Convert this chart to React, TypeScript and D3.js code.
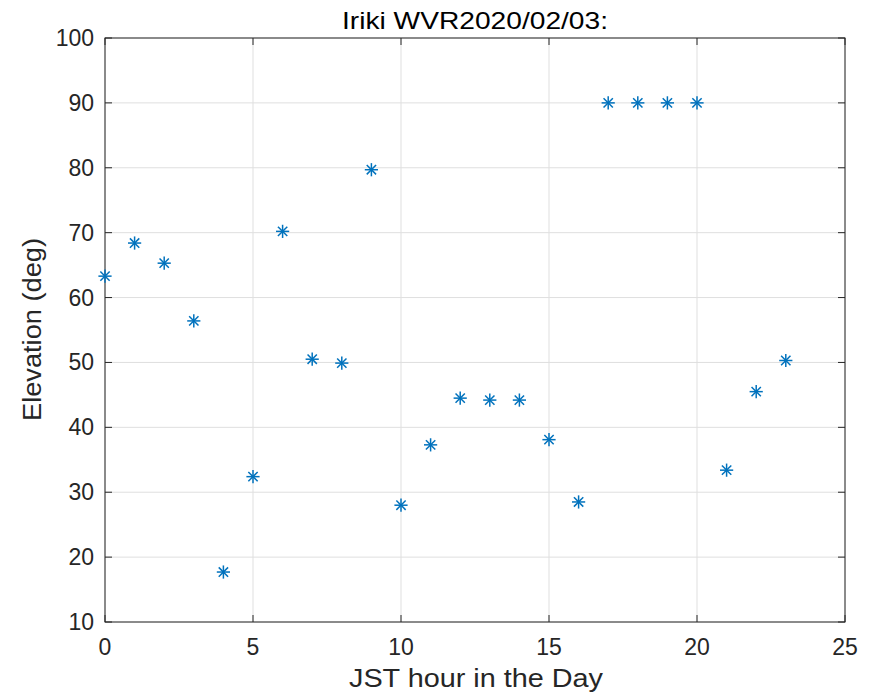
import React from "react";
import * as d3 from "d3";

const hours = [0, 1, 2, 3, 4, 5, 6, 7, 8, 9, 10, 11, 12, 13, 14, 15, 16, 17, 18, 19, 20, 21, 22, 23];
const elevation = [63.3, 68.4, 65.3, 56.4, 17.7, 32.4, 70.2, 50.5, 49.9, 79.7, 28.0, 37.3, 44.5, 44.2, 44.2, 38.1, 28.5, 90, 90, 90, 90, 33.4, 45.5, 50.3];
const xTicks = [0, 5, 10, 15, 20, 25];
const yTicks = [10, 20, 30, 40, 50, 60, 70, 80, 90, 100];

const W = 874, H = 697;
const M = { left: 105, right: 845, top: 38, bottom: 622 };
const FONT = "'Liberation Sans', Arial, sans-serif";
const AX = "#262626";

export default function App() {
  const x = d3.scaleLinear().domain([0, 25]).range([M.left, M.right]);
  const y = d3.scaleLinear().domain([10, 100]).range([M.bottom, M.top]);
  const tl = 7;
  const r = 6.6;
  const star = (cx: number, cy: number, i: number) => {
    const segs = [];
    for (let k = 0; k < 4; k++) {
      const a = (k * Math.PI) / 4;
      const dx = r * Math.sin(a), dy = r * Math.cos(a);
      segs.push(<line key={k} x1={cx - dx} y1={cy - dy} x2={cx + dx} y2={cy + dy} />);
    }
    return <g key={i}>{segs}</g>;
  };
  return (
    <svg width={W} height={H} style={{ position: "absolute", left: 0, top: 0, background: "#fff" }}>
      <rect x={0} y={0} width={W} height={H} fill="#fff" />
      <g stroke="#dfdfdf" strokeWidth={1}>
        {xTicks.map((t) => (
          <line key={"gx" + t} x1={x(t)} x2={x(t)} y1={M.top} y2={M.bottom} />
        ))}
        {yTicks.map((t) => (
          <line key={"gy" + t} x1={M.left} x2={M.right} y1={y(t)} y2={y(t)} />
        ))}
      </g>
      <g stroke={AX} strokeWidth={1}>
        {xTicks.map((t) => (
          <g key={"tx" + t}>
            <line x1={x(t)} x2={x(t)} y1={M.bottom} y2={M.bottom - tl} />
            <line x1={x(t)} x2={x(t)} y1={M.top} y2={M.top + tl} />
          </g>
        ))}
        {yTicks.map((t) => (
          <g key={"ty" + t}>
            <line x1={M.left} x2={M.left + tl} y1={y(t)} y2={y(t)} />
            <line x1={M.right} x2={M.right - tl} y1={y(t)} y2={y(t)} />
          </g>
        ))}
        <rect x={M.left} y={M.top} width={M.right - M.left} height={M.bottom - M.top} fill="none" />
      </g>
      <g stroke="#0072BD" strokeWidth={1.5}>
        {hours.map((h, i) => star(x(h), y(elevation[i]), i))}
      </g>
      <g fill={AX} fontFamily={FONT} fontSize={23}>
        {xTicks.map((t) => (
          <text key={"lx" + t} x={x(t)} y={M.bottom + 33} textAnchor="middle">{t}</text>
        ))}
        {yTicks.map((t) => (
          <text key={"ly" + t} x={M.left - 11} y={y(t) + 8} textAnchor="end">{t}</text>
        ))}
      </g>
      <text x={342} y={29} textLength={266} lengthAdjust="spacingAndGlyphs" fontFamily={FONT} fontSize={24} fill="#000">Iriki WVR2020/02/03:</text>
      <text x={349} y={687} textLength={254} lengthAdjust="spacingAndGlyphs" fontFamily={FONT} fontSize={25} fill={AX}>JST hour in the Day</text>
      <text transform={`translate(41, 421) rotate(-90)`} textLength={183} lengthAdjust="spacingAndGlyphs" fontFamily={FONT} fontSize={25} fill={AX}>Elevation (deg)</text>
    </svg>
  );
}
